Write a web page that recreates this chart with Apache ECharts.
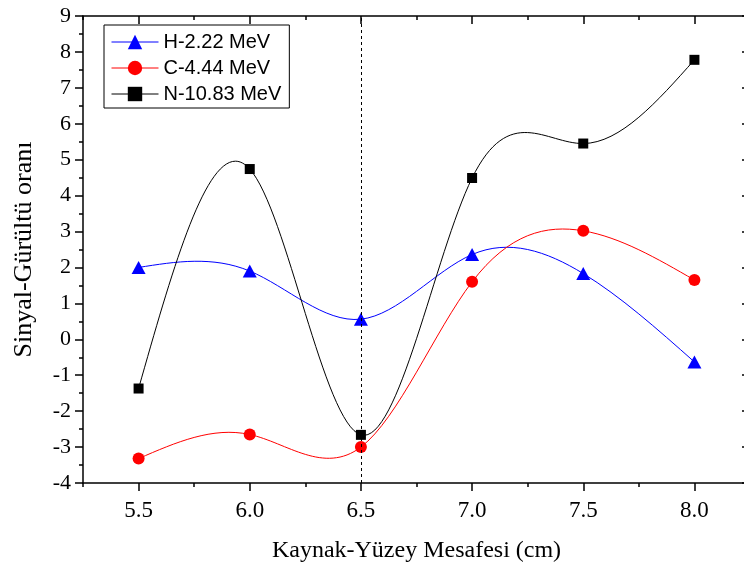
<!DOCTYPE html>
<html>
<head>
<meta charset="utf-8">
<script src="https://cdn.jsdelivr.net/npm/echarts@6/dist/echarts.min.js"></script>
<style>
  html, body { margin: 0; padding: 0; background: #fff; }
  #main { width: 744px; height: 571px; }
</style>
</head>
<body>
<div id="main"></div>
<script>
// distances (cm)
let distances = [5.5, 6.0, 6.5, 7.0, 7.5, 8.0];
let hValues = [2.0, 1.9, 0.56, 2.36, 1.83, -0.63];
let cValues = [-3.32, -2.65, -3.0, 1.6, 3.02, 1.65];
let nValues = [-1.37, 4.74, -2.66, 4.49, 5.45, 7.78];
let xMajorTicks = [5.5, 6.0, 6.5, 7.0, 7.5, 8.0];
let markerX = 6.5;

let serif = "Liberation Serif";
let sans = "Liberation Sans";

function pairs(vals) {
  return distances.map((x, i) => [x, vals[i]]);
}

// natural cubic spline through the points, as bezier segments (data space)
function splineSegments(xs, ys) {
  let n = xs.length;
  let h = [];
  for (let i = 0; i < n - 1; i++) h.push(xs[i + 1] - xs[i]);
  let a = [], b = [], c = [], d = [];
  for (let i = 1; i < n - 1; i++) {
    a.push(h[i - 1]);
    b.push(2 * (h[i - 1] + h[i]));
    c.push(h[i]);
    d.push(6 * ((ys[i + 1] - ys[i]) / h[i] - (ys[i] - ys[i - 1]) / h[i - 1]));
  }
  // thomas algorithm
  let m = d.length;
  for (let i = 1; i < m; i++) {
    let w = a[i] / b[i - 1];
    b[i] -= w * c[i - 1];
    d[i] -= w * d[i - 1];
  }
  let inner = new Array(m);
  for (let i = m - 1; i >= 0; i--) {
    inner[i] = (d[i] - (i < m - 1 ? c[i] * inner[i + 1] : 0)) / b[i];
  }
  let M = [0, ...inner, 0];
  let segs = [];
  for (let i = 0; i < n - 1; i++) {
    let s = (ys[i + 1] - ys[i]) / h[i];
    let m0 = s - (h[i] * (2 * M[i] + M[i + 1])) / 6;
    let m1 = s + (h[i] * (M[i] + 2 * M[i + 1])) / 6;
    segs.push([
      [xs[i], ys[i]],
      [xs[i] + h[i] / 3, ys[i] + (m0 * h[i]) / 3],
      [xs[i + 1] - h[i] / 3, ys[i + 1] - (m1 * h[i]) / 3],
      [xs[i + 1], ys[i + 1]],
    ]);
  }
  return segs;
}

function curveSeries(vals, color) {
  let segs = splineSegments(distances, vals);
  return {
    type: "custom",
    silent: true,
    data: pairs(vals),
    encode: { x: 0, y: 1 },
    renderItem: (params, api) => {
      if (params.dataIndex !== 0) return null;
      return {
        type: "group",
        children: segs.map((s) => {
          let p = s.map((q) => api.coord(q));
          return {
            type: "bezierCurve",
            shape: {
              x1: p[0][0], y1: p[0][1],
              cpx1: p[1][0], cpy1: p[1][1],
              cpx2: p[2][0], cpy2: p[2][1],
              x2: p[3][0], y2: p[3][1],
            },
            style: { stroke: color, lineWidth: 1, fill: null },
          };
        }),
      };
    },
  };
}

let xBase = {
  type: "value",
  min: 5.25,
  max: 8.25,
  interval: 0.25,
  splitLine: { show: false },
};

let chart = echarts.init(document.getElementById("main"));
chart.setOption({
  animation: false,
  backgroundColor: "#fff",
  grid: { left: 83, top: 16, right: -6, bottom: 88, containLabel: false, outerBoundsMode: "none" },
  legend: {
    orient: "vertical",
    left: 104,
    top: 25,
    padding: [7, 8, 4, 7],
    itemGap: 6,
    itemWidth: 47,
    itemHeight: 18,
    borderColor: "#000",
    borderWidth: 1,
    lineStyle: { width: 1, opacity: 1 },
    textStyle: { fontFamily: sans, fontSize: 20, color: "#000" },
    data: ["H-2.22 MeV", "C-4.44 MeV", "N-10.83 MeV"],
  },
  xAxis: [
    {
      ...xBase,
      position: "bottom",
      name: "Kaynak-Yüzey Mesafesi (cm)",
      nameLocation: "middle",
      nameGap: 56,
      nameTextStyle: { fontFamily: serif, fontSize: 24, color: "#000" },
      axisLine: { onZero: false, lineStyle: { color: "#000", width: 1.5 } },
      axisTick: { show: true, length: 4, lineStyle: { color: "#000", width: 1.5 } },
      axisLabel: {
        interval: 0,
        margin: 16,
        fontFamily: serif,
        fontSize: 23,
        color: "#000",
        formatter: (v) => (Math.abs(v * 2 - Math.round(v * 2)) < 1e-6 ? v.toFixed(1) : ""),
      },
    },
    {
      ...xBase,
      position: "bottom",
      axisLine: { show: false, onZero: false },
      axisTick: { show: true, length: 8, customValues: xMajorTicks, lineStyle: { color: "#000", width: 1.5 } },
      axisLabel: { show: false },
    },
    {
      ...xBase,
      position: "top",
      axisLine: { onZero: false, lineStyle: { color: "#000", width: 1.5 } },
      axisTick: { show: true, inside: true, length: 4, lineStyle: { color: "#000", width: 1.5 } },
      axisLabel: { show: false },
    },
    {
      ...xBase,
      position: "top",
      axisLine: { show: false, onZero: false },
      axisTick: { show: true, inside: true, length: 8, customValues: xMajorTicks, lineStyle: { color: "#000", width: 1.5 } },
      axisLabel: { show: false },
    },
  ],
  yAxis: [
    {
      type: "value",
      position: "left",
      min: -4,
      max: 9,
      interval: 1,
      name: "Sinyal-Gürültü oranı",
      nameLocation: "middle",
      nameGap: 46,
      nameTextStyle: { fontFamily: serif, fontSize: 26, color: "#000" },
      splitLine: { show: false },
      axisLine: { onZero: false, lineStyle: { color: "#000", width: 1.5 } },
      axisTick: { show: true, length: 8, lineStyle: { color: "#000", width: 1.5 } },
      minorTick: { show: true, splitNumber: 2, length: 4, lineStyle: { color: "#000", width: 1.5 } },
      axisLabel: { margin: 12, fontFamily: serif, fontSize: 22, color: "#000" },
    },
    {
      type: "value",
      position: "right",
      min: -4,
      max: 9,
      interval: 1,
      splitLine: { show: false },
      axisLine: { onZero: false, lineStyle: { color: "#000", width: 1.5 } },
      axisTick: { show: true, inside: true, length: 8, lineStyle: { color: "#000", width: 1.5 } },
      axisLabel: { show: false },
    },
  ],
  series: [
    curveSeries(hValues, "#0000ff"),
    curveSeries(cValues, "#ff0000"),
    curveSeries(nValues, "#000000"),
    {
      name: "H-2.22 MeV",
      type: "line",
      data: pairs(hValues),
      symbol: "triangle",
      symbolSize: [14, 13],
      color: "#0000ff",
      lineStyle: { width: 1, color: "#0000ff", opacity: 0 },
      itemStyle: { color: "#0000ff" },
    },
    {
      name: "C-4.44 MeV",
      type: "line",
      data: pairs(cValues),
      symbol: "circle",
      symbolSize: 12,
      color: "#ff0000",
      lineStyle: { width: 1, color: "#ff0000", opacity: 0 },
      itemStyle: { color: "#ff0000" },
    },
    {
      name: "N-10.83 MeV",
      type: "line",
      data: pairs(nValues),
      symbol: "rect",
      symbolSize: 10,
      color: "#000",
      lineStyle: { width: 1, color: "#000", opacity: 0 },
      itemStyle: { color: "#000" },
      markLine: {
        silent: true,
        symbol: ["none", "none"],
        label: { show: false },
        lineStyle: { color: "#000", width: 1, type: [3, 3], opacity: 1 },
        data: [{ xAxis: markerX }],
      },
    },
  ],
});
</script>
</body>
</html>
